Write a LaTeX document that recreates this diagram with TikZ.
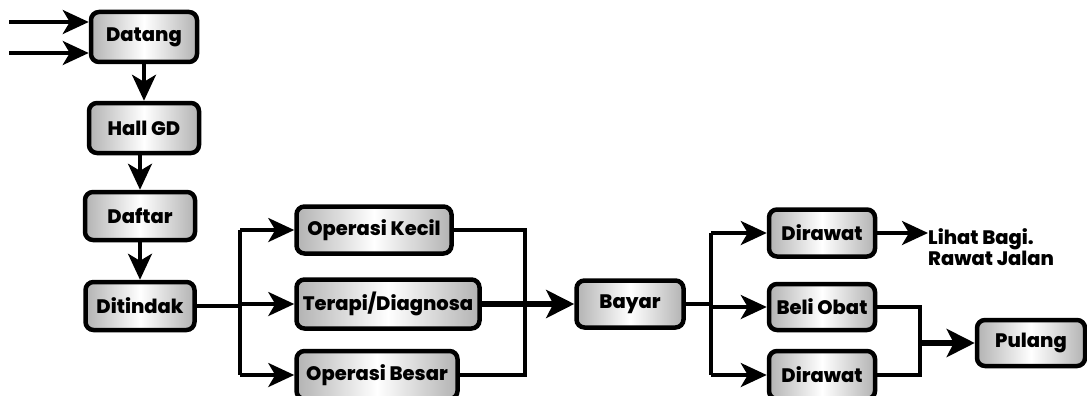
\documentclass[tikz,border=0pt]{standalone}
\usepackage{fontspec}
\setmainfont{Poppins}[BoldFont={Poppins ExtraBold}]
\usetikzlibrary{arrows.meta,positioning}
\tikzset{
  box/.style={draw=black, line width=4.5pt, rounded corners=8pt,
    left color=gray!60, right color=gray!60, middle color=white,
    inner sep=0pt, font=\fontsize{19.5}{21}\selectfont\bfseries, text=black},
  conn/.style={line width=3.5pt, draw=black},
  thickconn/.style={line width=6.5pt, draw=black},
  arr/.style={conn, -{Stealth[length=26pt,width=24pt,inset=7pt]}},
  thickarr/.style={thickconn, -{Stealth[length=28pt,width=28pt,inset=7pt]}},
}
\begin{document}
\begin{tikzpicture}[x=1pt,y=-1pt]
\clip (0,0) rectangle (1087,396);
\fill[white] (0,0) rectangle (1087,396);
% boxes
\node[box, minimum width=106pt, minimum height=50pt] (datang) at (144,37) {Datang};
\node[box, minimum width=110pt, minimum height=50pt] (hall) at (144,128) {Hall GD};
\node[box, minimum width=110pt, minimum height=48pt] (daftar) at (140,216) {Daftar};
\node[box, minimum width=109pt, minimum height=48pt] (ditindak) at (140,306) {Ditindak};
\node[box, minimum width=155pt, minimum height=47pt] (opkecil) at (374,230) {Operasi Kecil};
\node[box, minimum width=183pt, minimum height=49pt] (terapi) at (388,304) {Terapi/Diagnosa};
\node[box, minimum width=161pt, minimum height=48pt] (opbesar) at (377,375) {Operasi Besar};
\node[box, minimum width=107pt, minimum height=47pt] (bayar) at (630,304) {Bayar};
\node[box, minimum width=106pt, minimum height=47pt] (dirawata) at (822,233) {Dirawat};
\node[box, minimum width=106pt, minimum height=46pt] (beli) at (822,307) {Beli Obat};
\node[box, minimum width=106pt, minimum height=48pt] (dirawatb) at (822,375) {Dirawat};
\node[box, minimum width=108pt, minimum height=46pt] (pulang) at (1031,343) {Pulang};
\node[anchor=north west, inner sep=0pt, align=left,
      font=\fontsize{19.5}{21}\selectfont\bfseries] (lihat) at (928,228) {Lihat Bagi.\\Rawat Jalan};
% coordinates
\coordinate (ina) at (9,22);
\coordinate (inb) at (9,53);
\coordinate (ba) at (240,306);
\coordinate (mg) at (525,304);
\coordinate (bb) at (711,304);
\coordinate (mp) at (920,343);
% input arrows
\draw[arr] (ina) -- (ina -| datang.west);
\draw[arr] (inb) -- (inb -| datang.west);
% vertical chain
\draw[arr] (datang.south) -- (datang.south |- hall.north);
\draw[arr] (hall.south -| daftar.north) -- (daftar.north);
\draw[arr] (daftar.south) -- (ditindak.north);
% first branch
\draw[conn] (ditindak.east) -- (ba);
\draw[conn] (ba |- opkecil.west) -- (ba |- opbesar.west);
\draw[arr] (ba |- opkecil.west) -- (opkecil.west);
\draw[arr] (ba |- terapi.west) -- (terapi.west);
\draw[arr] (ba |- opbesar.west) -- (opbesar.west);
% merge to bayar
\draw[conn] (opkecil.east) -- (mg |- opkecil.east) -- (mg |- opbesar.east) -- (opbesar.east);
\draw[thickarr] (terapi.east) -- (bayar.west);
% second branch
\draw[conn] (bayar.east) -- (bb);
\draw[conn] (bb |- dirawata.west) -- (bb |- dirawatb.west);
\draw[arr] (bb |- dirawata.west) -- (dirawata.west);
\draw[arr] (bb |- beli.west) -- (beli.west);
\draw[arr] (bb |- dirawatb.west) -- (dirawatb.west);
% to lihat
\draw[arr] (dirawata.east) -- (lihat.west |- dirawata.east);
% merge to pulang
\draw[conn] (beli.east) -- (mp |- beli.east) -- (mp |- dirawatb.east) -- (dirawatb.east);
\draw[thickarr] (mp) -- (pulang.west);
\end{tikzpicture}
\end{document}
